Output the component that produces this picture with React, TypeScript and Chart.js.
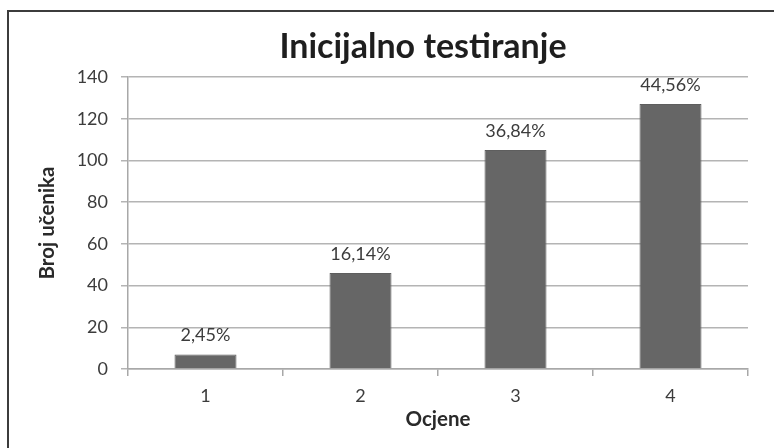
import React, { useEffect, useRef } from "react";
import { Chart, registerables } from "chart.js";

Chart.register(...registerables);

const titleText = "Inicijalno testiranje";
const xTitle = "Ocjene";
const yTitle = "Broj učenika";
const categories = ["1", "2", "3", "4"];
const counts = [7, 46, 105, 127];
const percentLabels = ["2,45%", "16,14%", "36,84%", "44,56%"];
const yMin = 0;
const yMax = 140;
const yStep = 20;

const FONT = "Lato";
const TEXT = "#3c3c3c";

const valueLabels = {
  id: "valueLabels",
  afterDatasetsDraw(chart: any) {
    const ctx = chart.ctx;
    const meta = chart.getDatasetMeta(0);
    ctx.save();
    ctx.font = `18px ${FONT}`;
    ctx.fillStyle = TEXT;
    ctx.textAlign = "center";
    ctx.textBaseline = "alphabetic";
    meta.data.forEach((el: any, i: number) => {
      ctx.fillText(percentLabels[i], el.x, el.y - 13);
    });
    ctx.restore();
  },
};

const chartTitle = {
  id: "chartTitle",
  afterDraw(chart: any) {
    const ctx = chart.ctx;
    const area = chart.chartArea;
    ctx.save();
    ctx.font = `bold 34px ${FONT}`;
    ctx.fillStyle = "#1e1e1e";
    ctx.textAlign = "center";
    ctx.textBaseline = "middle";
    ctx.fillText(titleText, (area.left + area.right) / 2 - 15, area.top - 30);
    ctx.restore();
  },
};

export default function App() {
  const ref = useRef<HTMLCanvasElement | null>(null);
  useEffect(() => {
    if (!ref.current) return;
    const chart = new Chart(ref.current, {
      type: "bar",
      data: {
        labels: categories,
        datasets: [
          {
            data: counts,
            backgroundColor: "#666666",
            borderColor: "#5e5e5e",
            borderWidth: 1,
            barPercentage: 0.4,
            categoryPercentage: 1,
          },
        ],
      },
      options: {
        responsive: false,
        animation: false,
        devicePixelRatio: 1,
        layout: { padding: { left: 0, right: 26, top: 77, bottom: 0 } },
        plugins: {
          legend: { display: false },
          tooltip: { enabled: false },
          title: { display: false },
        },
        scales: {
          x: {
            offset: true,
            grid: {
              offset: true,
              drawOnChartArea: false,
              drawTicks: true,
              tickLength: 7,
              color: "#a8a8a8",
              lineWidth: 1.5,
            },
            border: { color: "#a8a8a8", width: 1.5 },
            ticks: {
              color: TEXT,
              font: { family: FONT, size: 18 },
              padding: 9,
            },
            title: {
              display: true,
              text: xTitle,
              color: "#2a2a2a",
              font: { family: FONT, size: 20.5, weight: "bold", lineHeight: 1.2 },
              padding: { top: 0, bottom: 16.7 },
            },
            afterFit(scale: any) {
              scale.height = 79;
            },
          },
          y: {
            min: yMin,
            max: yMax,
            grid: {
              color: "#b4b4b4",
              lineWidth: 1.5,
              tickLength: 7,
            },
            border: { color: "#a8a8a8", width: 1.5 },
            ticks: {
              stepSize: yStep,
              color: TEXT,
              font: { family: FONT, size: 18 },
              padding: 13,
            },
            title: {
              display: true,
              text: yTitle,
              color: "#2a2a2a",
              font: { family: FONT, size: 20.5, weight: "bold", lineHeight: 1.2 },
              padding: { top: 34.7, bottom: 0 },
            },
            afterFit(scale: any) {
              scale.width = 128;
            },
          },
        },
      },
      plugins: [valueLabels, chartTitle],
    });
    return () => chart.destroy();
  }, []);

  return (
    <div
      style={{
        position: "fixed",
        left: 0,
        top: 0,
        width: 774,
        height: 448,
        overflow: "hidden",
        background: "#ffffff",
      }}
    >
      <div
        style={{
          position: "absolute",
          left: 7,
          top: 10,
          width: 820,
          height: 500,
          borderTop: "2px solid #3c3c3c",
          borderLeft: "2px solid #3c3c3c",
        }}
      />
      <canvas
        ref={ref}
        width={774}
        height={448}
        style={{ position: "absolute", left: 0, top: 0, width: 774, height: 448, display: "block" }}
      />
    </div>
  );
}
